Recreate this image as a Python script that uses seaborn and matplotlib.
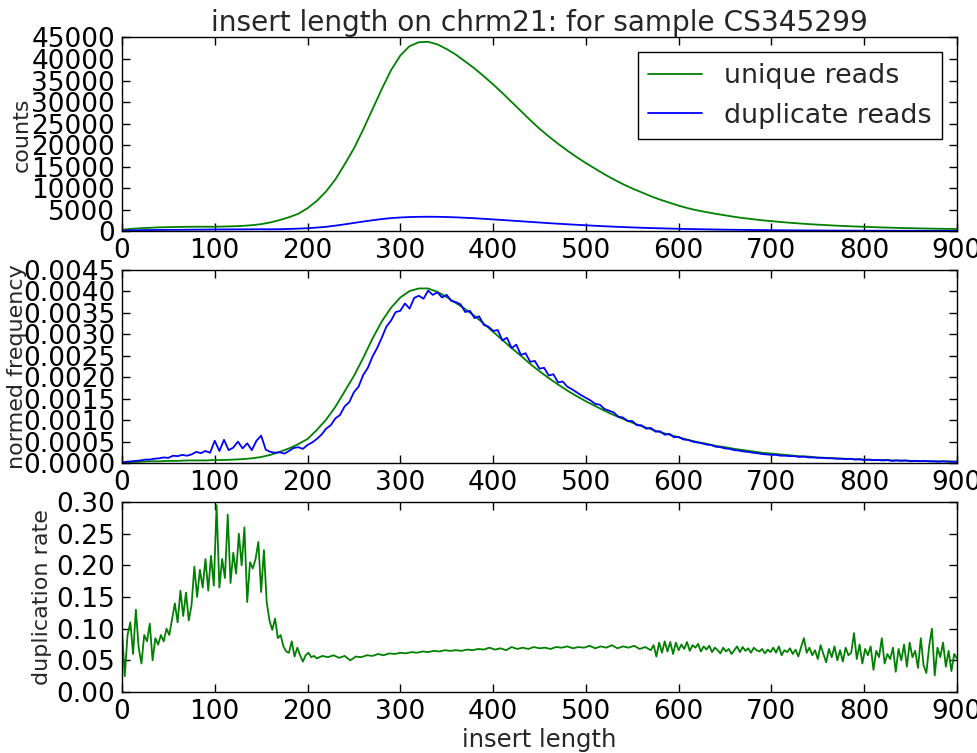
import numpy as np
import matplotlib
matplotlib.use("Agg")
import matplotlib.pyplot as plt
import seaborn as sns
from matplotlib.ticker import MultipleLocator, FormatStrFormatter

# counts per insert length, read every 10 bp
unique_counts = [
    300, 500, 650, 750, 850, 900, 950, 980, 1000, 1000,
    1000, 1050, 1100, 1200, 1350, 1600, 2000, 2550, 3200, 4000,
    5300, 7000, 9200, 12000, 15500, 19200, 23600, 28300, 33000, 37400,
    40800, 43000, 43900, 44000, 43400, 42300, 41000, 39400, 37800, 36000,
    34100, 32100, 30000, 27900, 25800, 23800, 22000, 20300, 18700, 17200,
    15800, 14500, 13200, 12000, 10900, 9900, 9000, 8100, 7300, 6600,
    5900, 5300, 4800, 4400, 4000, 3650, 3300, 3000, 2750, 2500,
    2300, 2100, 1920, 1760, 1610, 1480, 1360, 1250, 1150, 1060,
    980, 900, 830, 770, 710, 660, 610, 570, 530, 500,
    470,
]
dup_counts = [
    100, 150, 200, 230, 250, 270, 280, 300, 320, 330,
    360, 370, 380, 390, 400, 420, 400, 420, 480, 560,
    650, 800, 980, 1250, 1550, 1880, 2200, 2500, 2780, 3000,
    3150, 3250, 3300, 3320, 3300, 3250, 3180, 3080, 2970, 2840,
    2700, 2560, 2420, 2270, 2120, 1980, 1830, 1700, 1570, 1450,
    1330, 1220, 1110, 1010, 920, 840, 760, 690, 630, 570,
    520, 470, 430, 390, 350, 320, 290, 265, 240, 220,
    200, 180, 165, 150, 138, 126, 115, 105, 96, 88,
    80, 74, 68, 62, 57, 53, 49, 45, 42, 39,
    36,
]

# normed frequency, unique every 10 bp, duplicate every 5 bp
unique_norm = [
    0.00001, 0.00002, 0.00003, 0.00004, 0.00004, 0.00005, 0.00005, 0.00006, 0.00006, 0.00006,
    0.00007, 0.00007, 0.00008, 0.00009, 0.00011, 0.00014, 0.00019, 0.00026, 0.00034, 0.00044,
    0.00056, 0.00077, 0.00101, 0.00131, 0.00167, 0.00203, 0.00245, 0.00290, 0.00330, 0.00362,
    0.00386, 0.00401, 0.00407, 0.00407, 0.00399, 0.00387, 0.00373, 0.00359, 0.00343, 0.00325,
    0.00306, 0.00287, 0.00268, 0.00250, 0.00231, 0.00214, 0.00198, 0.00183, 0.00169, 0.00156,
    0.00144, 0.00133, 0.00122, 0.00112, 0.00103, 0.00094, 0.00086, 0.00079, 0.00072, 0.00066,
    0.00060, 0.00054, 0.00049, 0.00045, 0.00040, 0.00037, 0.00033, 0.00030, 0.00027, 0.00024,
    0.00022, 0.00020, 0.00018, 0.00016, 0.00015, 0.00013, 0.00012, 0.00011, 0.00010, 0.00009,
    0.00008, 0.00007, 0.00007, 0.00006, 0.00006, 0.00005, 0.00005, 0.00004, 0.00004, 0.00004,
    0.00003,
]
dup_norm = [
    0.00001, 0.00003, 0.00004, 0.00005, 0.00006, 0.00008, 0.00008, 0.00010, 0.00011, 0.00013,
    0.00012, 0.00017, 0.00016, 0.00019, 0.00017, 0.00020, 0.00026, 0.00023, 0.00028, 0.00024,
    0.00052, 0.00028, 0.00054, 0.00030, 0.00036, 0.00050, 0.00034, 0.00046, 0.00030, 0.00052,
    0.00064, 0.00031, 0.00026, 0.00024, 0.00025, 0.00022, 0.00028, 0.00035, 0.00037, 0.00033,
    0.00042, 0.00048, 0.00056, 0.00066, 0.00080, 0.00088, 0.00104, 0.00112, 0.00132, 0.00142,
    0.00165, 0.00178, 0.00205, 0.00222, 0.00248, 0.00268, 0.00292, 0.00318, 0.00332, 0.00352,
    0.00355, 0.00372, 0.00360, 0.00385, 0.00390, 0.00383, 0.00402, 0.00392, 0.00398, 0.00386,
    0.00392, 0.00378, 0.00375, 0.00370, 0.00352, 0.00355, 0.00338, 0.00342, 0.00322, 0.00318,
    0.00308, 0.00310, 0.00286, 0.00292, 0.00268, 0.00276, 0.00252, 0.00256, 0.00236, 0.00238,
    0.00220, 0.00222, 0.00204, 0.00207, 0.00188, 0.00190, 0.00178, 0.00172, 0.00165, 0.00158,
    0.00152, 0.00146, 0.00138, 0.00136, 0.00126, 0.00122, 0.00118, 0.00108, 0.00106, 0.00098,
    0.00098, 0.00088, 0.00088, 0.00080, 0.00082, 0.00073, 0.00074, 0.00066, 0.00068, 0.00060,
    0.00061, 0.00055, 0.00054, 0.00050, 0.00048, 0.00046, 0.00043, 0.00042, 0.00038, 0.00037,
    0.00034, 0.00033, 0.00030, 0.00029, 0.00027, 0.00026, 0.00024, 0.00023, 0.00021, 0.00020,
    0.00019, 0.00019, 0.00017, 0.00017, 0.00016, 0.00016, 0.00014, 0.00015, 0.00013, 0.00013,
    0.00012, 0.00012, 0.00011, 0.00011, 0.00010, 0.00010, 0.00009, 0.00010, 0.00008, 0.00009,
    0.00007, 0.00008, 0.00007, 0.00007, 0.00006, 0.00007, 0.00005, 0.00006, 0.00005, 0.00006,
    0.00004, 0.00005, 0.00004, 0.00005, 0.00004, 0.00004, 0.00003, 0.00004, 0.00003, 0.00003,
    0.00003,
]

# duplication rate: 0-210 every 3 bp, 216-570 every 6 bp, 573-900 every 3 bp
rate_short = [
    0.100, 0.025, 0.090, 0.110, 0.060, 0.130, 0.070, 0.045, 0.090, 0.080,
    0.108, 0.050, 0.085, 0.075, 0.090, 0.080, 0.100, 0.090, 0.115, 0.140,
    0.110, 0.160, 0.120, 0.157, 0.113, 0.137, 0.198, 0.150, 0.193, 0.165,
    0.210, 0.160, 0.215, 0.168, 0.295, 0.165, 0.210, 0.180, 0.280, 0.172,
    0.220, 0.187, 0.250, 0.200, 0.260, 0.142, 0.205, 0.195, 0.210, 0.237,
    0.158, 0.224, 0.142, 0.113, 0.098, 0.116, 0.085, 0.090, 0.072, 0.064,
    0.062, 0.080, 0.056, 0.070, 0.058, 0.048, 0.058, 0.062, 0.055, 0.057,
    0.053,
]
rate_mid = [
    0.057, 0.055, 0.058, 0.054, 0.057, 0.050, 0.056, 0.055, 0.058, 0.057,
    0.060, 0.058, 0.061, 0.060, 0.062, 0.061, 0.063, 0.062, 0.064, 0.063,
    0.065, 0.064, 0.066, 0.065, 0.066, 0.065, 0.067, 0.066, 0.068, 0.067,
    0.070, 0.067, 0.069, 0.066, 0.071, 0.068, 0.070, 0.068, 0.071, 0.069,
    0.070, 0.068, 0.071, 0.070, 0.072, 0.069, 0.071, 0.070, 0.073, 0.069,
    0.072, 0.070, 0.074, 0.069, 0.072, 0.070, 0.073, 0.068, 0.071, 0.066,
]
rate_long = [
    0.074, 0.056, 0.078, 0.062, 0.080, 0.064, 0.079, 0.060, 0.078, 0.066,
    0.075, 0.068, 0.079, 0.065, 0.074, 0.070, 0.076, 0.064, 0.072, 0.067,
    0.073, 0.063, 0.070, 0.066, 0.061, 0.070, 0.064, 0.068, 0.060, 0.066,
    0.072, 0.063, 0.071, 0.065, 0.069, 0.062, 0.070, 0.066, 0.064, 0.068,
    0.061, 0.067, 0.063, 0.070, 0.062, 0.072, 0.058, 0.066, 0.063, 0.069,
    0.060, 0.067, 0.056, 0.071, 0.085, 0.062, 0.070, 0.058, 0.066, 0.052,
    0.074, 0.060, 0.047, 0.068, 0.055, 0.072, 0.050, 0.066, 0.048, 0.070,
    0.058, 0.062, 0.093, 0.052, 0.075, 0.045, 0.068, 0.058, 0.072, 0.035,
    0.065, 0.055, 0.085, 0.045, 0.060, 0.052, 0.070, 0.032, 0.068, 0.050,
    0.075, 0.040, 0.078, 0.055, 0.065, 0.038, 0.085, 0.042, 0.030, 0.072,
    0.100, 0.026, 0.070, 0.055, 0.078, 0.040, 0.065, 0.033, 0.060, 0.053,
]

sns.set_style("ticks", {"xtick.direction": "in", "ytick.direction": "in",
                        "axes.edgecolor": "black"})
plt.rcParams['font.family'] = ['DejaVu Sans']

GREEN = (0, 0.5, 0)
BLUE = (0, 0, 1)

x10 = 10 * np.arange(len(unique_counts))
x10d = 10 * np.arange(len(dup_counts))
x10n = 10 * np.arange(len(unique_norm))
x5 = 5 * np.arange(len(dup_norm))
x_rate = np.concatenate([3 * np.arange(len(rate_short)),
                         216 + 6 * np.arange(len(rate_mid)),
                         573 + 3 * np.arange(len(rate_long))])
rate = np.array(rate_short + rate_mid + rate_long)

fig = plt.figure(figsize=(9.78, 7.53), dpi=100)
ax1 = fig.add_axes([0.1247, 0.6932, 0.8538, 0.257])
ax2 = fig.add_axes([0.1247, 0.3851, 0.8538, 0.2563])
ax3 = fig.add_axes([0.1247, 0.081, 0.8538, 0.2523])

sns.lineplot(x=x10, y=unique_counts, color=GREEN, lw=1.3, ax=ax1, label="unique reads")
sns.lineplot(x=x10d, y=dup_counts, color=BLUE, lw=1.3, ax=ax1, label="duplicate reads")
sns.lineplot(x=x10n, y=unique_norm, color=GREEN, lw=1.3, ax=ax2)
sns.lineplot(x=x5, y=dup_norm, color=BLUE, lw=1.3, ax=ax2)
sns.lineplot(x=x_rate, y=rate, color=GREEN, lw=1.3, ax=ax3)

ax1.set_ylim(0, 45000)
ax1.yaxis.set_major_locator(MultipleLocator(5000))
ax1.yaxis.set_major_formatter(FormatStrFormatter("%d"))
ax1.set_ylabel("counts", fontsize=16)
ax1.yaxis.set_label_coords(-0.108, 0.5)
ax1.set_title("insert length on chrm21: for sample CS345299", fontsize=20.2, pad=4)
leg = ax1.legend(loc="upper right", fontsize=19.4, fancybox=False, framealpha=1,
                 edgecolor="black", handlelength=2.0, handletextpad=0.8,
                 borderpad=0.4, borderaxespad=0.55)
leg.get_frame().set_linewidth(1.0)

ax2.set_ylim(0, 0.0045)
ax2.yaxis.set_major_locator(MultipleLocator(0.0005))
ax2.yaxis.set_major_formatter(FormatStrFormatter("%.4f"))
ax2.set_ylabel("normed frequency", fontsize=16)
ax2.yaxis.set_label_coords(-0.114, 0.5)

ax3.set_ylim(0, 0.30)
ax3.yaxis.set_major_locator(MultipleLocator(0.05))
ax3.yaxis.set_major_formatter(FormatStrFormatter("%.2f"))
ax3.set_ylabel("duplication rate", fontsize=16)
ax3.yaxis.set_label_coords(-0.084, 0.5)
ax3.set_xlabel("insert length", fontsize=17.5, labelpad=2)

for ax in (ax1, ax2, ax3):
    ax.set_xlim(0, 900)
    ax.xaxis.set_major_locator(MultipleLocator(100))
    ax.tick_params(which="both", top=True, right=True, direction="in",
                   length=6, width=1, labelsize=19, pad=5, colors="black")
    for s in ax.spines.values():
        s.set_visible(True)
        s.set_color("black")
        s.set_linewidth(1.0)

fig.savefig("out.png", dpi=100)
